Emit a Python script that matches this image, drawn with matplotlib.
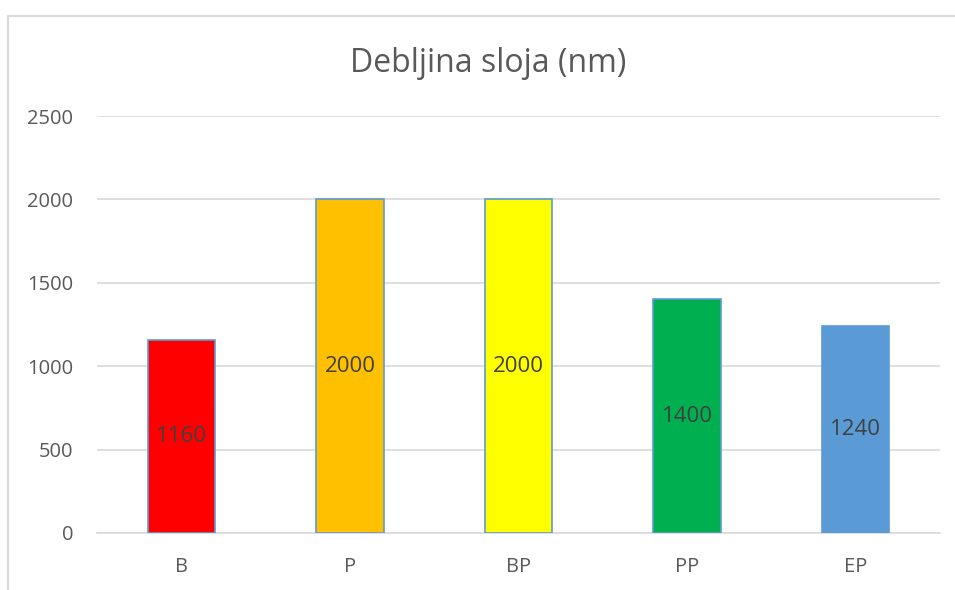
import matplotlib
matplotlib.use("Agg")
from matplotlib import pyplot as plt
from matplotlib.patches import Rectangle

# Data
categories = ["B", "P", "BP", "PP", "EP"]
values = [1160, 2000, 2000, 1400, 1240]
colors = ["#FF0000", "#FFC000", "#FFFF00", "#00B050", "#5B9BD5"]
edges = ["#5B9BD5", "#5B9BD5", "#5B9BD5", "#5B9BD5", "#5B9BD5"]
yticks = [0, 500, 1000, 1500, 2000, 2500]

plt.rcParams["font.family"] = ["Open Sans", "DejaVu Sans"]

fig = plt.figure(figsize=(9.55, 5.90), dpi=100)
fig.patch.set_facecolor("white")

# light frame round the chart area (cut off at right and bottom)
fig.patches.append(Rectangle((8 / 955, -0.1), 1.1, (590 - 16) / 590 + 0.1,
                             transform=fig.transFigure, fill=False,
                             edgecolor="#D9D9D9", linewidth=1.5))

ax = fig.add_axes([97 / 955, 57 / 590, 843 / 955, 417 / 590])
x = range(len(categories))
bars = ax.bar(x, values, width=0.4, color=colors, edgecolor=edges,
              linewidth=1.2, zorder=3)

# value labels in the middle of each bar
for rect, val in zip(bars, values):
    ax.text(rect.get_x() + rect.get_width() / 2, val / 2, str(val),
            ha="center", va="center", fontsize=16, color="#404040", zorder=4)

ax.set_xlim(-0.5, len(categories) - 0.5)
ax.set_ylim(0, 2500)
ax.set_yticks(yticks)
ax.set_xticks(list(x))
ax.set_xticklabels(categories)
ax.tick_params(axis="both", length=0, labelsize=14.5, colors="#595959")
ax.tick_params(axis="y", pad=17)
ax.tick_params(axis="x", pad=17)
ax.grid(axis="y", color="#D9D9D9", linewidth=1.2, zorder=0)
for side in ["top", "right", "left"]:
    ax.spines[side].set_visible(False)
ax.spines["bottom"].set_color("#D9D9D9")
ax.spines["bottom"].set_linewidth(1.2)

fig.text(488 / 955, (590 - 64) / 590, "Debljina sloja (nm)", ha="center",
         va="center", fontsize=23, color="#595959")

fig.savefig("out.png", dpi=100)
